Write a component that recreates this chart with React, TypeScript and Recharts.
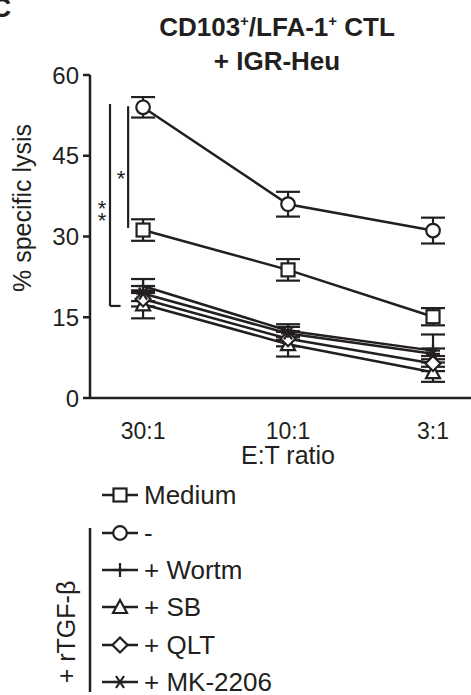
import React from 'react';
import { LineChart, Line, XAxis, YAxis, ErrorBar, ReferenceLine } from 'recharts';

// E:T ratios (x positions 0,1,2)
const ratios = ['30:1', '10:1', '3:1'];

// % specific lysis
const medium = [31.2, 23.8, 15.1];
const mediumErr = [2.0, 2.0, 1.6];
const tgf = [54.0, 36.0, 31.1];
const tgfErr = [1.9, 2.3, 2.4];
const wortm = [20.8, 12.5, 8.8];
const wortmErr = [1.3, 1.2, 3.0];
const sb = [17.4, 10.0, 4.8];
const sbErr = [2.6, 2.3, 1.8];
const qlt = [18.4, 11.0, 6.4];
const qltErr = [1.4, 1.4, 1.4];
const mk = [19.4, 12.0, 8.2];
const mkErr = [1.4, 1.2, 1.0];

const yTicks = [0, 15, 30, 45, 60];

const INK = '#231f20';
const FONT = '"Liberation Sans", Arial, Helvetica, sans-serif';

const data = ratios.map((r, i) => ({
  x: i,
  medium: medium[i], mediumErr: mediumErr[i],
  tgf: tgf[i], tgfErr: tgfErr[i],
  wortm: wortm[i], wortmErr: wortmErr[i],
  sb: sb[i], sbErr: sbErr[i],
  qlt: qlt[i], qltErr: qltErr[i],
  mk: mk[i], mkErr: mkErr[i],
}));

type Shape = 'square' | 'circle' | 'plus' | 'triangle' | 'diamond' | 'star';

function Marker({ shape, cx, cy }: { shape: Shape; cx: number; cy: number }) {
  const sw = 2.2;
  switch (shape) {
    case 'square':
      return <rect x={cx - 6.5} y={cy - 6.5} width={13} height={13} fill="#fff" stroke={INK} strokeWidth={sw} />;
    case 'circle':
      return <circle cx={cx} cy={cy} r={6.8} fill="#fff" stroke={INK} strokeWidth={sw} />;
    case 'plus':
      return (
        <g stroke={INK} strokeWidth={sw}>
          <line x1={cx - 7} y1={cy} x2={cx + 7} y2={cy} />
          <line x1={cx} y1={cy - 7} x2={cx} y2={cy + 7} />
        </g>
      );
    case 'triangle':
      return (
        <polygon
          points={`${cx},${cy - 7} ${cx + 7},${cy + 6} ${cx - 7},${cy + 6}`}
          fill="#fff" stroke={INK} strokeWidth={sw} strokeLinejoin="miter"
        />
      );
    case 'diamond':
      return (
        <polygon
          points={`${cx},${cy - 7.5} ${cx + 7.5},${cy} ${cx},${cy + 7.5} ${cx - 7.5},${cy}`}
          fill="#fff" stroke={INK} strokeWidth={sw}
        />
      );
    case 'star':
      return (
        <g stroke={INK} strokeWidth={sw}>
          <line x1={cx - 7} y1={cy} x2={cx + 7} y2={cy} />
          <line x1={cx - 4} y1={cy - 6} x2={cx + 4} y2={cy + 6} />
          <line x1={cx + 4} y1={cy - 6} x2={cx - 4} y2={cy + 6} />
        </g>
      );
  }
  return null;
}

const makeDot = (shape: Shape) => (p: any) => (
  <Marker key={`${shape}-${p.index}`} shape={shape} cx={p.cx} cy={p.cy} />
);

const series: { key: string; shape: Shape }[] = [
  { key: 'sb', shape: 'triangle' },
  { key: 'qlt', shape: 'diamond' },
  { key: 'mk', shape: 'star' },
  { key: 'wortm', shape: 'plus' },
  { key: 'medium', shape: 'square' },
  { key: 'tgf', shape: 'circle' },
];

const legendRows: { label: string; shape: Shape; y: number }[] = [
  { label: 'Medium', shape: 'square', y: 495 },
  { label: '-', shape: 'circle', y: 533 },
  { label: '+ Wortm', shape: 'plus', y: 570 },
  { label: '+ SB', shape: 'triangle', y: 607 },
  { label: '+ QLT', shape: 'diamond', y: 645 },
  { label: '+ MK-2206', shape: 'star', y: 682 },
];

const XTick = (p: any) => (
  <text x={p.x} y={p.y + 33} textAnchor="middle" fontSize={23} fontFamily={FONT} fill={INK}>
    {ratios[p.payload.value]}
  </text>
);

export default function App() {
  return (
    <div style={{ position: 'absolute', left: 0, top: 0, width: 471, height: 695, background: '#fff' }}>
      <LineChart
        width={471}
        height={695}
        data={data}
        margin={{ top: 75, right: 0, bottom: 267, left: 30 }}
      >
        <XAxis
          dataKey="x"
          type="number"
          domain={[-0.366, 2.262]}
          ticks={[0, 1, 2]}
          allowDataOverflow
          height={30}
          tickLine={false}
          tick={<XTick />}
          axisLine={{ stroke: INK, strokeWidth: 2.5 }}
        />
        <YAxis
          type="number"
          domain={[0, 60]}
          ticks={yTicks}
          width={60}
          tickSize={7}
          tickMargin={4}
          axisLine={{ stroke: INK, strokeWidth: 2.5 }}
          tickLine={{ stroke: INK, strokeWidth: 2.5 }}
          tick={{ fontSize: 24, fontFamily: FONT, fill: INK }}
        />
        {/* significance brackets */}
        <ReferenceLine
          segment={[{ x: -0.103, y: 54.2 }, { x: -0.103, y: 31.6 }]}
          stroke={INK} strokeWidth={2.2}
        />
        <ReferenceLine
          segment={[{ x: -0.228, y: 54.6 }, { x: -0.228, y: 17.1 }]}
          stroke={INK} strokeWidth={2.2}
        />
        <ReferenceLine
          segment={[{ x: -0.228, y: 17.1 }, { x: -0.155, y: 17.1 }]}
          stroke={INK} strokeWidth={2.2}
        />
        {series.map((s) => (
          <Line
            key={s.key}
            dataKey={s.key}
            stroke={INK}
            strokeWidth={2.5}
            dot={makeDot(s.shape)}
            activeDot={false}
            isAnimationActive={false}
          >
            <ErrorBar dataKey={`${s.key}Err`} width={12} strokeWidth={2.2} stroke={INK} direction="y" />
          </Line>
        ))}
      </LineChart>

      <svg
        width={471}
        height={695}
        style={{ position: 'absolute', left: 0, top: 0, pointerEvents: 'none' }}
        fontFamily={FONT}
        fill={INK}
      >
        <text x={-9} y={17} fontSize={28} fontWeight="bold">C</text>
        <text x={277} y={36} textAnchor="middle" fontSize={26} fontWeight="bold">
          CD103<tspan fontSize={15} dy={-10}>+</tspan>
          <tspan dy={10}>/LFA-1</tspan>
          <tspan fontSize={15} dy={-10}>+</tspan>
          <tspan dy={10}> CTL</tspan>
        </text>
        <text x={277} y={70} textAnchor="middle" fontSize={26} fontWeight="bold">+ IGR-Heu</text>

        <text x={121} y={186} textAnchor="middle" fontSize={22}>*</text>
        <text x={102} y={216} textAnchor="middle" fontSize={22}>*</text>
        <text x={102} y={228} textAnchor="middle" fontSize={22}>*</text>

        <text
          x={0} y={0} fontSize={25} textAnchor="middle"
          transform="translate(31 208) rotate(-90)"
        >
          % specific lysis
        </text>
        <text x={288} y={464} textAnchor="middle" fontSize={25}>E:T ratio</text>

        {legendRows.map((r) => (
          <g key={r.label}>
            <line x1={102} y1={r.y} x2={138} y2={r.y} stroke={INK} strokeWidth={2.5} />
            <Marker shape={r.shape} cx={120} cy={r.y} />
            <text x={144} y={r.y + 9} fontSize={26}>{r.label}</text>
          </g>
        ))}
        <line x1={90} y1={528} x2={90} y2={692} stroke={INK} strokeWidth={2.5} />
        <text
          x={0} y={0} fontSize={25} textAnchor="middle"
          transform="translate(75 632) rotate(-90)"
        >
          + rTGF-β
        </text>
      </svg>
    </div>
  );
}
